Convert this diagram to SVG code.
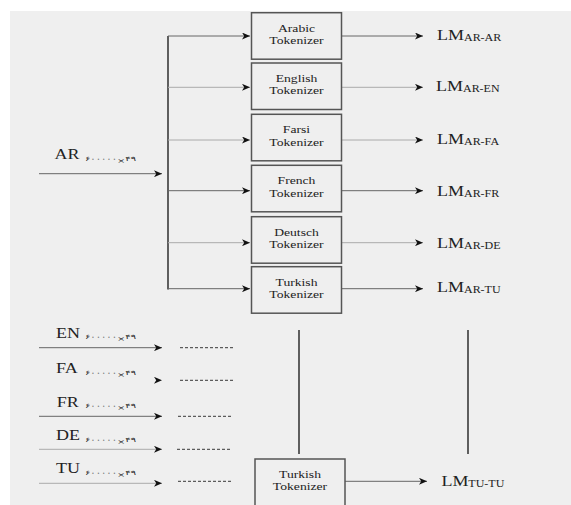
<svg xmlns="http://www.w3.org/2000/svg" width="571" height="505" viewBox="0 0 571 505">
<style>
.bg{fill:#efefef}
.box{fill:#efefef;stroke:#555;stroke-width:1.5}
.bt{font-family:'Liberation Serif','DejaVu Serif',serif;font-size:10.5px;fill:#222;text-anchor:middle}
.lm{font-family:'Liberation Serif','DejaVu Serif',serif;font-size:15px;fill:#222}
.sub{font-size:10px}
.lab{font-family:'Liberation Serif','DejaVu Serif',serif;font-size:15px;fill:#222}
.sm{font-family:'DejaVu Sans',sans-serif;font-size:6.5px;fill:#222}
.dk{stroke:#666;stroke-width:1;fill:none}
.lt{stroke:#aaa;stroke-width:1;fill:none}
.bus{stroke:#222;stroke-width:1.4;fill:none}
.dash{stroke:#222;stroke-width:0.9;stroke-dasharray:3 2;fill:none}
</style>
<defs>
<marker id="ah" markerWidth="9" markerHeight="7" refX="8" refY="3.5" orient="auto" markerUnits="userSpaceOnUse">
<path d="M0,0 L8,3.5 L0,7 L2.2,3.5 Z" fill="#111"/>
</marker>
</defs>
<rect x="0" y="0" width="571" height="505" fill="#ffffff"/>
<rect class="bg" x="10" y="11" width="561" height="494"/>

<g id="connectors">
<line class="dk" x1="39" y1="173.7" x2="162" y2="173.7" marker-end="url(#ah)"/>
<line class="bus" x1="168" y1="36" x2="168" y2="289.5"/>
<line class="dk" x1="168" y1="36" x2="250" y2="36" marker-end="url(#ah)"/>
<line class="lt" x1="168" y1="87.3" x2="250" y2="87.3" marker-end="url(#ah)"/>
<line class="lt" x1="168" y1="140" x2="250" y2="140" marker-end="url(#ah)"/>
<line class="dk" x1="168" y1="190.7" x2="250" y2="190.7" marker-end="url(#ah)"/>
<line class="lt" x1="168" y1="242.7" x2="250" y2="242.7" marker-end="url(#ah)"/>
<line class="dk" x1="168" y1="288.7" x2="250" y2="288.7" marker-end="url(#ah)"/>
<line class="dk" x1="342" y1="36" x2="423" y2="36" marker-end="url(#ah)"/>
<line class="lt" x1="342" y1="87.3" x2="423" y2="87.3" marker-end="url(#ah)"/>
<line class="lt" x1="342" y1="140" x2="423" y2="140" marker-end="url(#ah)"/>
<line class="dk" x1="342" y1="190.7" x2="423" y2="190.7" marker-end="url(#ah)"/>
<line class="lt" x1="342" y1="242.7" x2="423" y2="242.7" marker-end="url(#ah)"/>
<line class="dk" x1="342" y1="288.7" x2="423" y2="288.7" marker-end="url(#ah)"/>
<line class="dk" x1="39" y1="347.7" x2="162" y2="347.7" marker-end="url(#ah)"/>
<line class="dk" x1="155" y1="380.3" x2="162" y2="380.3" stroke-opacity="0" marker-end="url(#ah)"/>
<line class="dk" x1="39" y1="416.3" x2="162" y2="416.3" marker-end="url(#ah)"/>
<line class="lt" x1="39" y1="449.3" x2="162" y2="449.3" marker-end="url(#ah)"/>
<line class="lt" x1="39" y1="483.3" x2="162" y2="483.3" marker-end="url(#ah)"/>
<line class="dash" x1="180" y1="347.7" x2="233" y2="347.7"/>
<line class="dash" x1="180" y1="380.3" x2="233" y2="380.3"/>
<line class="dash" x1="178" y1="416.3" x2="231" y2="416.3"/>
<line class="dash" x1="177" y1="449.3" x2="230" y2="449.3"/>
<line class="dash" x1="178" y1="481.3" x2="231" y2="481.3"/>
<line class="bus" x1="299" y1="330" x2="299" y2="454"/>
<line class="bus" x1="468" y1="330" x2="468" y2="454"/>
<line class="dk" x1="345" y1="481.3" x2="427" y2="481.3" marker-end="url(#ah)"/>
</g>

<g id="input-ar">
<text class="lab" transform="translate(54.6 159) scale(1.2 1)">AR</text>
<text class="sm" x="85" y="160.5" textLength="51" lengthAdjust="spacingAndGlyphs">۶۰۰۰۰۰<tspan dy="2">×</tspan><tspan dy="-2">۴۹</tspan></text>
</g>
<g id="input-en">
<text class="lab" transform="translate(56 337.6) scale(1.2 1)">EN</text>
<text class="sm" x="85" y="339" textLength="51" lengthAdjust="spacingAndGlyphs">۶۰۰۰۰۰<tspan dy="2">×</tspan><tspan dy="-2">۴۹</tspan></text>
</g>
<g id="input-fa">
<text class="lab" transform="translate(56 373) scale(1.2 1)">FA</text>
<text class="sm" x="85" y="374.5" textLength="51" lengthAdjust="spacingAndGlyphs">۶۰۰۰۰۰<tspan dy="2">×</tspan><tspan dy="-2">۴۹</tspan></text>
</g>
<g id="input-fr">
<text class="lab" transform="translate(56.7 406.7) scale(1.2 1)">FR</text>
<text class="sm" x="85" y="408" textLength="51" lengthAdjust="spacingAndGlyphs">۶۰۰۰۰۰<tspan dy="2">×</tspan><tspan dy="-2">۴۹</tspan></text>
</g>
<g id="input-de">
<text class="lab" transform="translate(56 440) scale(1.2 1)">DE</text>
<text class="sm" x="85" y="441.5" textLength="51" lengthAdjust="spacingAndGlyphs">۶۰۰۰۰۰<tspan dy="2">×</tspan><tspan dy="-2">۴۹</tspan></text>
</g>
<g id="input-tu">
<text class="lab" transform="translate(56 473) scale(1.2 1)">TU</text>
<text class="sm" x="85" y="474.5" textLength="51" lengthAdjust="spacingAndGlyphs">۶۰۰۰۰۰<tspan dy="2">×</tspan><tspan dy="-2">۴۹</tspan></text>
</g>

<g id="arabic-tokenizer">
<rect class="box" x="251.5" y="12.7" width="90" height="46.5"/>
<text class="bt" transform="translate(296.5 31.5) scale(1.3 1)">Arabic</text>
<text class="bt" transform="translate(296.5 43.7) scale(1.3 1)">Tokenizer</text>
</g>
<g id="english-tokenizer">
<rect class="box" x="251.5" y="63" width="90" height="46.5"/>
<text class="bt" transform="translate(296.5 82) scale(1.3 1)">English</text>
<text class="bt" transform="translate(296.5 94) scale(1.3 1)">Tokenizer</text>
</g>
<g id="farsi-tokenizer">
<rect class="box" x="251.5" y="114.3" width="90" height="46.5"/>
<text class="bt" transform="translate(296.5 133) scale(1.3 1)">Farsi</text>
<text class="bt" transform="translate(296.5 145.5) scale(1.3 1)">Tokenizer</text>
</g>
<g id="french-tokenizer">
<rect class="box" x="251.5" y="165.3" width="90" height="46.5"/>
<text class="bt" transform="translate(296.5 184) scale(1.3 1)">French</text>
<text class="bt" transform="translate(296.5 196.5) scale(1.3 1)">Tokenizer</text>
</g>
<g id="deutsch-tokenizer">
<rect class="box" x="251.5" y="216.7" width="90" height="46.5"/>
<text class="bt" transform="translate(296.5 235.5) scale(1.3 1)">Deutsch</text>
<text class="bt" transform="translate(296.5 247.5) scale(1.3 1)">Tokenizer</text>
</g>
<g id="turkish-tokenizer">
<rect class="box" x="251.5" y="266.7" width="90" height="46.5"/>
<text class="bt" transform="translate(296.5 285.5) scale(1.3 1)">Turkish</text>
<text class="bt" transform="translate(296.5 297.5) scale(1.3 1)">Tokenizer</text>
</g>
<g id="turkish-tokenizer-2">
<rect class="box" x="255" y="459" width="90" height="50"/>
<text class="bt" transform="translate(300 477.5) scale(1.3 1)">Turkish</text>
<text class="bt" transform="translate(300 490) scale(1.3 1)">Tokenizer</text>
</g>

<g id="lm-ar-ar"><text class="lm" transform="translate(437 39.5) scale(1.2 1)">LM<tspan class="sub" dy="1">AR-AR</tspan></text></g>
<g id="lm-ar-en"><text class="lm" transform="translate(436 91) scale(1.2 1)">LM<tspan class="sub" dy="1">AR-EN</tspan></text></g>
<g id="lm-ar-fa"><text class="lm" transform="translate(437 144) scale(1.2 1)">LM<tspan class="sub" dy="1">AR-FA</tspan></text></g>
<g id="lm-ar-fr"><text class="lm" transform="translate(437 196) scale(1.2 1)">LM<tspan class="sub" dy="1">AR-FR</tspan></text></g>
<g id="lm-ar-de"><text class="lm" transform="translate(437 248) scale(1.2 1)">LM<tspan class="sub" dy="1">AR-DE</tspan></text></g>
<g id="lm-ar-tu"><text class="lm" transform="translate(437 291.7) scale(1.2 1)">LM<tspan class="sub" dy="1">AR-TU</tspan></text></g>
<g id="lm-tu-tu"><text class="lm" transform="translate(441.4 485.5) scale(1.2 1)">LM<tspan class="sub" dy="1">TU-TU</tspan></text></g>
</svg>
